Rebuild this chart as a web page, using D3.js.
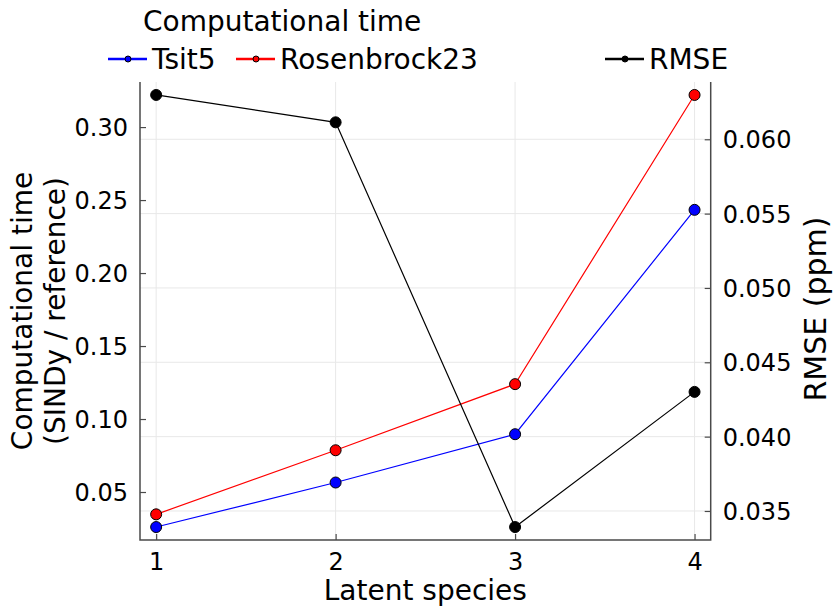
<!DOCTYPE html>
<html>
<head>
<meta charset="utf-8">
<script src="https://cdn.jsdelivr.net/npm/d3@7"></script>
<style>
  body { margin: 0; background: #fff; }
  svg text { font-family: "DejaVu Sans", sans-serif; fill: #000; }
</style>
</head>
<body>
<div class="canvas"></div>
<script>
var latent = [1, 2, 3, 4];
var tsit5 = [0.0260, 0.0565, 0.0896, 0.2433];
var rosenbrock23 = [0.0347, 0.0786, 0.1239, 0.3220];
var rmse = [0.06298, 0.06114, 0.03392, 0.04301];

var xTicks = [1, 2, 3, 4];
var leftTicks = [0.05, 0.10, 0.15, 0.20, 0.25, 0.30];
var rightTicks = [0.035, 0.040, 0.045, 0.050, 0.055, 0.060];

(function twinplot() {
  var W = 835, H = 607;
  var plot = { left: 140, right: 710.7, top: 82, bottom: 540 };

  var svg = d3.select(".canvas")
    .append("svg")
    .attr("width", W)
    .attr("height", H);

  // Plots.jl style padding: 3% of data range on each side
  function padded(values) {
    var ext = d3.extent(values);
    var pad = (ext[1] - ext[0]) * 0.03;
    return [ext[0] - pad, ext[1] + pad];
  }

  var x = d3.scaleLinear().domain(padded(latent)).range([plot.left, plot.right]);
  var yL = d3.scaleLinear().domain(padded(tsit5.concat(rosenbrock23))).range([plot.bottom, plot.top]);
  var yR = d3.scaleLinear().domain(padded(rmse)).range([plot.bottom, plot.top]);

  var gridColor = "#e8e8e8";
  var axisColor = "#4a4a4a";

  // grid: vertical from x ticks, horizontal from the right axis
  svg.append("g").selectAll("line")
    .data(xTicks).enter().append("line")
    .attr("x1", function(d) { return x(d); })
    .attr("x2", function(d) { return x(d); })
    .attr("y1", plot.top).attr("y2", plot.bottom)
    .attr("stroke", gridColor).attr("stroke-width", 1);

  svg.append("g").selectAll("line")
    .data(rightTicks).enter().append("line")
    .attr("x1", plot.left).attr("x2", plot.right)
    .attr("y1", function(d) { return yR(d); })
    .attr("y2", function(d) { return yR(d); })
    .attr("stroke", gridColor).attr("stroke-width", 1);

  // axes (ticks point inward)
  function styleAxis(g) {
    g.select(".domain").remove();
    g.selectAll(".tick line").attr("stroke", axisColor).attr("stroke-width", 1.2);
    g.selectAll(".tick text").style("font-size", "24px").attr("fill", "#000");
  }

  var xAxis = svg.append("g")
    .attr("transform", "translate(0," + plot.bottom + ")")
    .call(d3.axisBottom(x).tickValues(xTicks).tickFormat(d3.format("d")).tickSizeInner(-6).tickPadding(0))
    .call(styleAxis);
  xAxis.selectAll(".tick text").attr("y", 30).attr("dy", null);

  var leftAxis = svg.append("g")
    .attr("transform", "translate(" + plot.left + ",0)")
    .call(d3.axisLeft(yL).tickValues(leftTicks).tickFormat(d3.format(".2f")).tickSizeInner(-6).tickPadding(0))
    .call(styleAxis);
  leftAxis.selectAll(".tick text").attr("x", -12).attr("dy", "0.36em");

  var rightAxis = svg.append("g")
    .attr("transform", "translate(" + plot.right + ",0)")
    .call(d3.axisRight(yR).tickValues(rightTicks).tickFormat(d3.format(".3f")).tickSizeInner(-6).tickPadding(0))
    .call(styleAxis);
  rightAxis.selectAll(".tick text").attr("x", 12).attr("dy", "0.36em");

  // spines: left, bottom, right (no top)
  svg.append("path")
    .attr("d", "M" + plot.left + "," + plot.top + "V" + plot.bottom + "H" + plot.right + "V" + plot.top)
    .attr("fill", "none").attr("stroke", axisColor).attr("stroke-width", 1.5);

  // series
  var series = [
    { name: "Tsit5", values: tsit5, y: yL, color: "#0000ff" },
    { name: "Rosenbrock23", values: rosenbrock23, y: yL, color: "#ff0000" },
    { name: "RMSE", values: rmse, y: yR, color: "#000000" }
  ];

  series.forEach(function(s) {
    var line = d3.line()
      .x(function(d, i) { return x(latent[i]); })
      .y(function(d) { return s.y(d); });
    svg.append("path")
      .datum(s.values)
      .attr("d", line)
      .attr("fill", "none")
      .attr("stroke", s.color)
      .attr("stroke-width", 1.2);
    svg.append("g").selectAll("circle")
      .data(s.values).enter().append("circle")
      .attr("cx", function(d, i) { return x(latent[i]); })
      .attr("cy", function(d) { return s.y(d); })
      .attr("r", 5.5)
      .attr("fill", s.color)
      .attr("stroke", "#000")
      .attr("stroke-width", 1);
  });

  // axis labels
  svg.append("text")
    .attr("x", (plot.left + plot.right) / 2).attr("y", 600)
    .attr("text-anchor", "middle").style("font-size", "28px")
    .text("Latent species");

  var yMid = (plot.top + plot.bottom) / 2;
  var leftLabel = svg.append("text")
    .attr("transform", "translate(0," + yMid + ") rotate(-90)")
    .attr("text-anchor", "middle").style("font-size", "28px");
  leftLabel.append("tspan").attr("x", 0).attr("y", 32).text("Computational time");
  leftLabel.append("tspan").attr("x", 0).attr("y", 65).text("(SINDy / reference)");

  svg.append("text")
    .attr("transform", "translate(826," + (yMid - 2) + ") rotate(-90)")
    .attr("text-anchor", "middle").style("font-size", "30px")
    .text("RMSE (ppm)");

  // legends
  svg.append("text")
    .attr("x", 143).attr("y", 31)
    .style("font-size", "28px")
    .text("Computational time");

  var legendItems = [
    { s: series[0], x: 108 },
    { s: series[1], x: 236 },
    { s: series[2], x: 605 }
  ];
  var legendY = 59;
  var leg = svg.append("g").selectAll("g")
    .data(legendItems).enter().append("g")
    .attr("transform", function(d) { return "translate(" + d.x + "," + legendY + ")"; });
  leg.append("line")
    .attr("x1", 0).attr("x2", 39).attr("y1", 0).attr("y2", 0)
    .attr("stroke", function(d) { return d.s.color; })
    .attr("stroke-width", 2.5);
  leg.append("circle")
    .attr("cx", 20).attr("cy", 0).attr("r", 3)
    .attr("fill", function(d) { return d.s.color; })
    .attr("stroke", "#000").attr("stroke-width", 1);
  leg.append("text")
    .attr("x", 44).attr("y", 10)
    .style("font-size", "28px")
    .text(function(d) { return d.s.name; });
})();
</script>
</body>
</html>
